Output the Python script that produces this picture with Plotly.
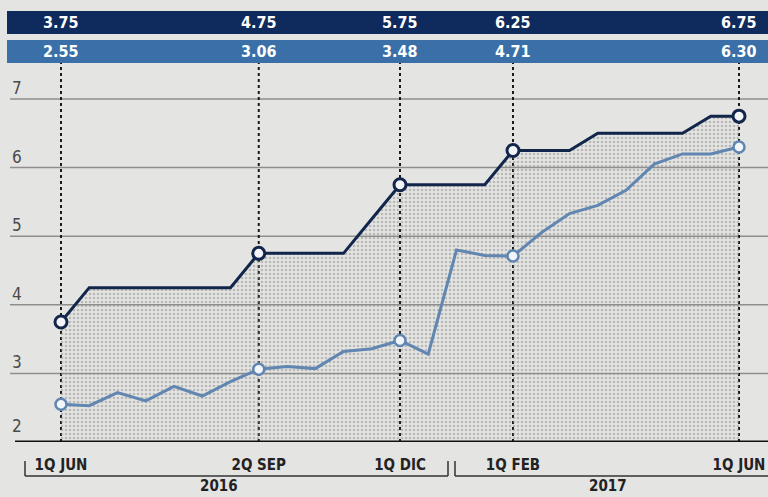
import plotly.graph_objects as go

# Half-month periods (quincenas), 1Q JUN 2016 .. 1Q JUN 2017
months = ["JUN", "JUL", "AGO", "SEP", "OCT", "NOV", "DIC",
          "ENE", "FEB", "MAR", "ABR", "MAY", "JUN"]
years = [2016] * 7 + [2017] * 6
periods = []
for m, yr in zip(months, years):
    periods.append(f"1Q {m} {yr}")
    periods.append(f"2Q {m} {yr}")
periods = periods[:25]

# Policy rate (%)
policy_rate = [3.75, 4.25, 4.25, 4.25, 4.25, 4.25, 4.25, 4.75, 4.75, 4.75,
               4.75, 5.25, 5.75, 5.75, 5.75, 5.75, 6.25, 6.25, 6.25, 6.50,
               6.50, 6.50, 6.50, 6.75, 6.75]
# Annual inflation, half-monthly (%)
inflation = [2.55, 2.53, 2.72, 2.60, 2.81, 2.67, 2.88, 3.06, 3.10, 3.07,
             3.32, 3.36, 3.48, 3.28, 4.80, 4.72, 4.71, 5.05, 5.33, 5.45,
             5.67, 6.05, 6.20, 6.20, 6.30]

# Highlighted periods and their axis labels
key_idx = [0, 7, 12, 16, 24]
key_labels = ["1Q JUN", "2Q SEP", "1Q DIC", "1Q FEB", "1Q JUN"]
y_ticks = [2, 3, 4, 5, 6, 7]
year_labels = ["2016", "2017"]

NAVY = "#12254a"
BANNER_DARK = "#0f2a5c"
BANNER_LIGHT = "#3b6fa7"
STEEL = "#6086b1"
BG = "#e4e4e2"
FONT = "Liberation Sans Narrow, DejaVu Sans Condensed, Roboto, Arial, sans-serif"

W, H = 768, 497
BOTTOM = 55            # space under the value-2 baseline
PX_PER_UNIT = 68.6
PX_PER_STEP = 28.25
X0_PX = 61

plot_h = H - BOTTOM
y_top = 2 + plot_h / PX_PER_UNIT
x_lo = -X0_PX / PX_PER_STEP
x_hi = x_lo + W / PX_PER_STEP


def px_y(p):
    """Paper y for a pixel row measured from the top of the figure."""
    return (plot_h - p) / plot_h


fig = go.Figure()

# Policy rate line with dotted fill down to the baseline
fig.add_trace(go.Scatter(
    x=periods, y=policy_rate, mode="lines",
    line=dict(color=NAVY, width=3),
    fill="tozeroy", fillcolor="rgba(0,0,0,0)",
    fillpattern=dict(shape=".", fgcolor="#8c8c8c", bgcolor="rgba(0,0,0,0)",
                     size=4, solidity=0.35),
    hoverinfo="x+y", showlegend=False,
))
# Inflation line
fig.add_trace(go.Scatter(
    x=periods, y=inflation, mode="lines",
    line=dict(color=STEEL, width=3),
    hoverinfo="x+y", showlegend=False,
))
# Circle markers at the highlighted periods
fig.add_trace(go.Scatter(
    x=[periods[i] for i in key_idx], y=[policy_rate[i] for i in key_idx],
    mode="markers",
    marker=dict(size=12, color="#f2f4f7", line=dict(color=NAVY, width=3)),
    showlegend=False,
))
fig.add_trace(go.Scatter(
    x=[periods[i] for i in key_idx], y=[inflation[i] for i in key_idx],
    mode="markers",
    marker=dict(size=11, color="#f2f5f9", line=dict(color=STEEL, width=2.5)),
    showlegend=False,
))

shapes = []
# Horizontal gridlines
for v in y_ticks[1:]:
    shapes.append(dict(type="line", xref="paper", yref="y", x0=10 / W, x1=1,
                       y0=v, y1=v, line=dict(color="#8e8e8e", width=1.5),
                       layer="below"))
# Dotted guides at highlighted periods, up to the value banners
for i in key_idx:
    shapes.append(dict(type="line", xref="x", yref="paper",
                       x0=i, x1=i, y0=0, y1=px_y(63),
                       line=dict(color="#1a1a1a", width=2, dash="dot"),
                       layer="below"))
# Value banners
for top_px, bot_px, col in [(11, 34, BANNER_DARK), (40, 63, BANNER_LIGHT)]:
    shapes.append(dict(type="rect", xref="paper", yref="paper",
                       x0=7 / W, x1=1, y0=px_y(bot_px), y1=px_y(top_px),
                       fillcolor=col, line=dict(width=0), layer="above"))
# Baseline
shapes.append(dict(type="line", xref="paper", yref="y", x0=15 / W, x1=1,
                   y0=2, y1=2, line=dict(color="#111111", width=3)))
# Year brackets
for xa, xb in [(25, 448), (455, 768)]:
    shapes.append(dict(type="line", xref="paper", yref="paper",
                       x0=xa / W, x1=xb / W, y0=px_y(476), y1=px_y(476),
                       line=dict(color="#333333", width=1.5)))
    shapes.append(dict(type="line", xref="paper", yref="paper",
                       x0=xa / W, x1=xa / W, y0=px_y(461), y1=px_y(476),
                       line=dict(color="#333333", width=1.5)))
    if xb < W:
        shapes.append(dict(type="line", xref="paper", yref="paper",
                           x0=xb / W, x1=xb / W, y0=px_y(461), y1=px_y(476),
                           line=dict(color="#333333", width=1.5)))

annotations = []
# Value banner labels
for i in key_idx:
    for val, top_px, bot_px in [(policy_rate[i], 11, 34), (inflation[i], 40, 63)]:
        annotations.append(dict(
            x=i, xref="x", yref="paper", y=px_y((top_px + bot_px) / 2),
            text=f"<b>{val:.2f}</b>", showarrow=False,
            font=dict(family=FONT, size=16, color="#ffffff"),
            xanchor="center", yanchor="middle"))
# Y tick labels sitting on their gridlines
for v in y_ticks:
    annotations.append(dict(
        x=10 / W, xref="paper", y=v, yref="y", text=str(v), showarrow=False,
        font=dict(family=FONT, size=17, color="#4a4a4a"),
        xanchor="left", yanchor="bottom", yshift=(4 if v == 2 else -1)))
# Year labels
for label, cx in zip(year_labels, [219, 608]):
    annotations.append(dict(
        x=cx / W, y=px_y(486), xref="paper", yref="paper",
        text=f"<b>{label}</b>", showarrow=False,
        font=dict(family=FONT, size=15, color="#222222"),
        xanchor="center", yanchor="middle"))

fig.update_layout(
    width=W, height=H,
    margin=dict(l=0, r=0, t=0, b=BOTTOM),
    paper_bgcolor=BG, plot_bgcolor=BG,
    shapes=shapes, annotations=annotations,
    xaxis=dict(type="category", range=[x_lo, x_hi],
               tickvals=[periods[i] for i in key_idx],
               ticktext=[f"<b>{t}</b>" for t in key_labels],
               tickfont=dict(family=FONT, size=15, color="#222222"),
               showgrid=False, zeroline=False, showline=False,
               ticks="", ticklabelstandoff=12),
    yaxis=dict(range=[2, y_top], showticklabels=False,
               showgrid=False, zeroline=False, showline=False, ticks=""),
    showlegend=False,
)

fig.write_html("out.html")
